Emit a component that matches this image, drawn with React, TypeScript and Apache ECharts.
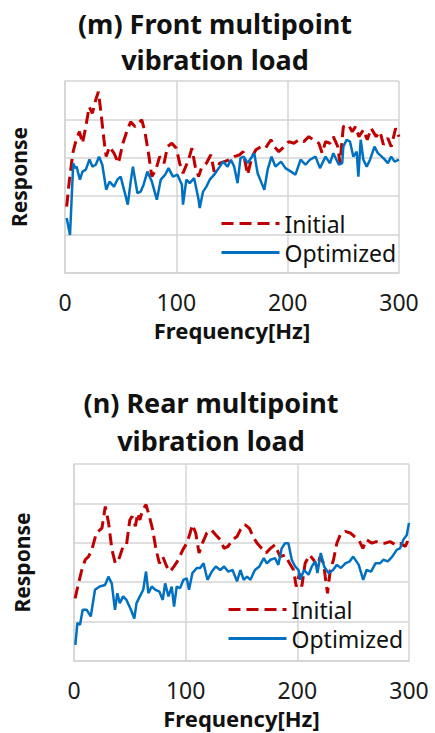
import React, { useEffect, useRef } from "react";
import * as echarts from "echarts";

// (m) Front multipoint vibration load
const freqMInit = [1.5,4,7,10,13,15.7,18.7,21.7,24.6,27.6,30,32,35,37,40,44,48,52,56,59,63,69,72,75,78,81.6,85,89,92,96,100,103,106,111,114,117,120,122.5,127,131,134,139,143,148,152,157,160,164,168,171.5,176,180,185,188,192,197,201,205.6,210,214.5,219,223,228,231,234,238,241,245,247,250,254.6,258,261,264,268,271.5,275,279.5,283,286,290,293,297,300];
const valMInit = [1.73,2.43,3.12,3.47,3.68,3.38,3.81,4.33,4.16,4.51,4.72,4.25,3.47,3.03,3.29,3.12,2.86,3.38,3.73,3.94,3.81,3.99,3.64,3.12,2.51,2.69,3.03,2.86,3.29,3.38,3.25,2.86,2.60,2.95,3.25,2.77,2.51,2.73,2.86,3.08,2.64,2.86,2.90,2.95,3.03,3.08,3.16,2.56,3.03,3.21,3.29,3.25,3.47,3.29,3.16,3.29,3.42,3.38,3.47,3.42,3.55,3.47,3.38,3.12,3.42,3.38,3.55,3.29,2.86,3.81,3.86,3.68,3.81,3.55,3.73,3.47,3.77,3.55,3.68,3.34,3.51,3.29,3.77,3.55];
const freqMOpt = [1.5,4.5,7.4,9,10.4,13.4,15.7,18.7,22,24.6,27.6,30.6,33.5,37,40,44,47,50,53,56.4,59,61,65,68,70.6,74,78,82.5,86,90,93,97,101,105,106,109,112,116,120,121,124,127,130,134,139,142,146,149,152,155,157.6,160.5,164,167,170,173,176.6,179,182,185.5,189,194,198,203,207,211.6,216,220,225,229,234,238,241,246,249,250,253,256,259,262,263.5,265.6,268,271,274,278,281,286,290,293,296,300];
const valMOpt = [1.43,0.99,2.86,2.73,2.77,2.43,2.64,2.69,2.96,2.77,2.82,3.03,2.82,2.17,2.38,2.25,2.43,2.51,2.17,1.78,2.38,2.77,2.08,2.12,2.30,2.64,2.38,1.91,2.43,2.56,2.73,2.51,2.56,2.30,1.78,2.43,2.34,2.47,1.91,1.69,2.12,2.25,2.43,2.56,2.77,2.90,2.77,2.95,2.77,2.34,2.99,3.03,2.86,2.99,3.12,2.60,2.34,2.17,2.69,3.03,2.77,2.90,2.73,2.64,2.56,2.95,2.82,2.95,3.03,2.73,3.03,2.86,3.12,2.82,2.86,3.29,3.47,3.42,3.03,3.16,2.51,3.47,2.95,2.77,2.95,3.29,3.12,2.99,2.86,3.03,2.90,2.95];

// (n) Rear multipoint vibration load
const freqNInit = [1,4,7,10,13,16,20,25,28,31,34,37,40,44,47,50,52,55,57,59,61.5,64.5,67.5,70.5,73.5,76.5,79.5,83,86,89.6,93.5,97.4,101,104,106,109,112,115,119,123,127,131,134.4,138,142,146,149,153,157,161,164,168,172,176,180,184.6,189,193,196.6,199,202,204,207,211,214.5,217.5,220.5,223.5,225,227,229.5,232.4,235.4,238.4,243,247.4,251,255,258.7,262,266.8,270.7,274,278.8,283,288,292,296.7,300];
const valNInit = [1.59,1.97,2.31,2.57,2.65,2.82,3.25,3.37,3.92,3.50,2.82,2.48,2.57,2.91,2.95,3.58,3.67,3.42,3.75,3.58,3.84,3.97,3.67,3.33,2.82,2.48,2.65,2.40,2.27,2.40,2.57,2.82,2.99,3.25,3.46,3.25,2.74,2.99,3.25,3.33,3.20,3.08,2.86,2.91,3.08,3.16,3.33,3.46,3.37,3.12,2.99,2.86,2.74,2.86,2.95,2.65,2.69,2.48,2.31,1.89,2.23,1.89,2.48,2.69,2.57,2.40,2.65,2.48,2.14,1.72,2.31,2.57,2.99,3.20,3.29,3.25,3.16,3.08,2.86,3.08,2.99,3.03,2.99,2.99,3.03,2.95,2.99,2.91,3.12];
const freqNOpt = [1.2,3,5.4,7.8,11.4,15,18.8,23,27.8,30.8,33.8,36.7,38.8,41,44,47,51,54,56,59,62,64.5,66.6,69.6,72.6,76.5,79.5,81.6,84.6,87.5,89.6,92,95,98,101,103,106,110,113,116,119.5,123.4,127,131,134.4,138,142,146,149,152,155,158,162,166,170,172.7,176,180,183,186,189,192,195,198,201,202.6,206,210,213,216,218,221,224,228,232,235.4,239,243,247,250,255,259,262,266,270,274,277,281,285,289,292,295,298,300];
const valNOpt = [0.41,0.96,0.92,1.30,1.30,1.13,1.81,1.89,1.93,2.14,1.97,1.30,1.72,1.47,1.64,1.55,1.30,1.08,1.47,1.64,1.81,2.27,1.72,1.89,1.81,1.76,1.55,1.97,1.64,1.89,1.38,1.89,1.85,2.06,2.10,1.81,2.23,2.36,2.36,2.48,2.06,2.27,2.40,2.31,2.40,2.27,2.31,2.02,2.31,2.06,2.14,2.06,2.31,2.40,2.61,2.48,2.57,2.61,2.44,2.86,2.99,2.99,2.57,2.40,2.31,2.06,2.31,2.19,2.40,2.53,2.23,2.74,2.40,2.23,2.31,2.44,2.36,2.48,2.53,2.65,2.44,2.06,2.31,2.27,2.48,2.48,2.57,2.53,2.65,2.82,2.86,3.08,3.20,3.50];

const seriesNames = ["Initial", "Optimized"];
const xTicks = { min: 0, max: 300, interval: 100 };
const yTicks = { min: 0, max: 5, interval: 1 };
const titleM = ["(m) Front multipoint", "vibration load"];
const titleN = ["(n) Rear multipoint", "vibration load"];
const xName = "Frequency[Hz]";
const yName = "Response";

const zip = (xs: number[], ys: number[]) => xs.map((x, i) => [x, ys[i]]);

export default function App() {
  const ref = useRef<HTMLDivElement>(null);
  useEffect(() => {
    document.body.style.margin = "0";
    const chart = echarts.init(ref.current!, null, { renderer: "svg" });
    const font = "'Noto Sans', sans-serif";
    const gridColor = "#d4d4d4";
    const red = "#C00000";
    const blue = "#0070C0";

    const xAxis = (gridIndex: number) => ({
      type: "value",
      gridIndex,
      ...xTicks,
      axisLine: { show: true, lineStyle: { color: gridColor, width: 1.5 } },
      axisTick: { show: false },
      splitLine: { show: true, lineStyle: { color: gridColor, width: 1.5 } },
      axisLabel: { fontSize: 23, color: "#1a1a1a", margin: 17, fontFamily: font },
      name: xName,
      nameLocation: "middle",
      nameGap: 46,
      nameTextStyle: { fontSize: 22, fontWeight: "bold", color: "#111", fontFamily: font },
    });
    const yAxis = (gridIndex: number, gap: number) => ({
      type: "value",
      gridIndex,
      ...yTicks,
      axisLine: { show: true, lineStyle: { color: gridColor, width: 1.5 } },
      axisTick: { show: false },
      axisLabel: { show: false },
      splitLine: { show: true, lineStyle: { color: gridColor, width: 1.5 } },
      name: yName,
      nameLocation: "middle",
      nameRotate: 90,
      nameGap: gap,
      nameTextStyle: { fontSize: 21, fontWeight: "bold", color: "#111", fontFamily: font },
    });
    const line = (name: string, idx: number, data: number[][]) => ({
      type: "line",
      name,
      xAxisIndex: idx,
      yAxisIndex: idx,
      data,
      symbol: "none",
      smooth: false,
      itemStyle: { color: name === "Initial" ? red : blue },
      lineStyle:
        name === "Initial"
          ? { color: red, width: 3, type: [12, 6] }
          : { color: blue, width: 2.5, type: "solid" },
    });
    const legend = (left: number, top: number) => ({
      data: seriesNames,
      orient: "vertical",
      left,
      top,
      padding: 0,
      itemGap: 6,
      itemWidth: 58,
      itemHeight: 14,
      selectedMode: false,
      itemStyle: { opacity: 0 },
      lineStyle: { width: 3 },
      textStyle: { fontSize: 23, color: "#111", fontFamily: font },
    });
    const titleText = (x: number, y: number, text: string) => ({
      type: "text",
      x,
      y,
      style: {
        text,
        align: "center",
        verticalAlign: "middle",
        font: `bold 27px ${font}`,
        fill: "#111",
      },
    });

    chart.setOption({
      animation: false,
      grid: [
        { left: 62, right: 36, top: 81, height: 192 },
        { left: 74, right: 26, top: 464, height: 197 },
      ],
      xAxis: [xAxis(0), xAxis(1)],
      yAxis: [yAxis(0, 36), yAxis(1, 42)],
      legend: [legend(220, 212), legend(227, 598)],
      graphic: [
        titleText(215, 23, titleM[0]),
        titleText(215, 59, titleM[1]),
        titleText(211, 402, titleN[0]),
        titleText(211, 440, titleN[1]),
      ],
      series: [
        line(seriesNames[0], 0, zip(freqMInit, valMInit)),
        line(seriesNames[1], 0, zip(freqMOpt, valMOpt)),
        line(seriesNames[0], 1, zip(freqNInit, valNInit)),
        line(seriesNames[1], 1, zip(freqNOpt, valNOpt)),
      ],
    });
    return () => chart.dispose();
  }, []);
  return <div ref={ref} style={{ width: 435, height: 733 }} />;
}
